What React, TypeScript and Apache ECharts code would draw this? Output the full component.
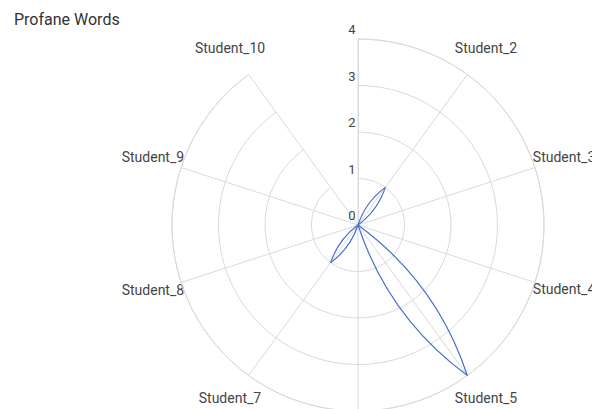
import React, { useEffect, useRef } from "react";
import * as echarts from "echarts";

const categories = [
  "Student_1", "Student_2", "Student_3", "Student_4", "Student_5",
  "Student_6", "Student_7", "Student_8", "Student_9", "Student_10",
];
const values = [0, 1, 0, 0, 4, 0, 1, 0, 0, 0];
const radiusTicks = [0, 1, 2, 3, 4];
const hiddenLabels = ["Student_1", "Student_6"];

// label placement (layout only): padding [top, right, bottom, left]
const labelPadding: Record<string, number[]> = {
  Student_2: [0, 0, 52, 11],
  Student_3: [0, 0, 0, 36],
  Student_4: [0, 0, 0, 36],
  Student_5: [48, 0, 0, 11],
  Student_7: [48, 11, 0, 0],
  Student_8: [0, 35, 0, 0],
  Student_9: [0, 35, 0, 0],
  Student_10: [0, 7, 52, 0],
};
// vertical shift for side labels (layout only): line height, up/down
const labelShift: Record<string, { lh: number; up: boolean }> = {
  Student_3: { lh: 46, up: true },
  Student_9: { lh: 46, up: true },
  Student_4: { lh: 38, up: false },
  Student_8: { lh: 40, up: false },
};

const LINE_COLOR = "#4a6fd0";
const GRID_COLOR = "#dadada";
const CURVENESS = 0.16;

export default function App() {
  const ref = useRef<HTMLDivElement>(null);
  useEffect(() => {
    if (!ref.current) return;
    const chart = echarts.init(ref.current, null, { renderer: "svg" });
    chart.setOption({
      animation: false,
      textStyle: { fontFamily: "Roboto" },
      title: {
        text: "Profane Words",
        left: 9,
        top: 6,
        textStyle: { fontFamily: "Roboto", fontSize: 16, fontWeight: "normal", color: "#333" },
      },
      polar: { center: [358, 225], radius: 186 },
      angleAxis: {
        type: "category",
        data: categories.map((c) => {
          const ts: any = { padding: labelPadding[c] || 0 };
          if (labelShift[c]) ts.lineHeight = labelShift[c].lh;
          return { value: c, textStyle: ts };
        }),
        startAngle: 90,
        clockwise: true,
        boundaryGap: false,
        axisLine: { lineStyle: { color: GRID_COLOR, width: 1 } },
        axisTick: { show: false },
        splitLine: { show: true, lineStyle: { color: GRID_COLOR, width: 1 } },
        axisLabel: {
          color: "#444",
          fontSize: 14,
          margin: -40,
          formatter: (v: string) => {
            if (hiddenLabels.includes(v)) return "";
            const s = labelShift[v];
            if (!s) return v;
            return s.up ? v + "\n" : "\n" + v;
          },
        },
      },
      radiusAxis: {
        type: "value",
        min: radiusTicks[0],
        max: radiusTicks[radiusTicks.length - 1],
        interval: 1,
        axisLine: { show: true, lineStyle: { color: GRID_COLOR, width: 1 } },
        axisTick: { show: false },
        splitLine: { show: true, lineStyle: { color: GRID_COLOR, width: 1 } },
        axisLabel: {
          color: "#444",
          fontSize: 13,
          align: "center",
          verticalAlign: "bottom",
          margin: 6,
          padding: [0, 0, 3, 0],
        },
      },
      series: [
        {
          type: "custom",
          coordinateSystem: "polar",
          data: values.map((v, i) => [v, i]),
          encode: { radius: 0, angle: 1 },
          renderItem: (params: any, api: any) => {
            const i = params.dataIndex;
            if (i === 0) return null;
            const prev = api.coord([values[i - 1], i - 1]);
            const cur = api.coord([values[i], i]);
            const dx = cur[0] - prev[0];
            const dy = cur[1] - prev[1];
            if (dx * dx + dy * dy < 0.5) return null;
            const mx = (prev[0] + cur[0]) / 2;
            const my = (prev[1] + cur[1]) / 2;
            return {
              type: "bezierCurve",
              shape: {
                x1: prev[0],
                y1: prev[1],
                x2: cur[0],
                y2: cur[1],
                cpx1: mx - CURVENESS * dy,
                cpy1: my + CURVENESS * dx,
              },
              style: { fill: null, stroke: LINE_COLOR, lineWidth: 1.2 },
            };
          },
        },
      ],
    });
    return () => chart.dispose();
  }, []);
  return (
    <div
      ref={ref}
      style={{ position: "fixed", left: 0, top: 0, width: 592, height: 409, background: "#fff" }}
    />
  );
}
